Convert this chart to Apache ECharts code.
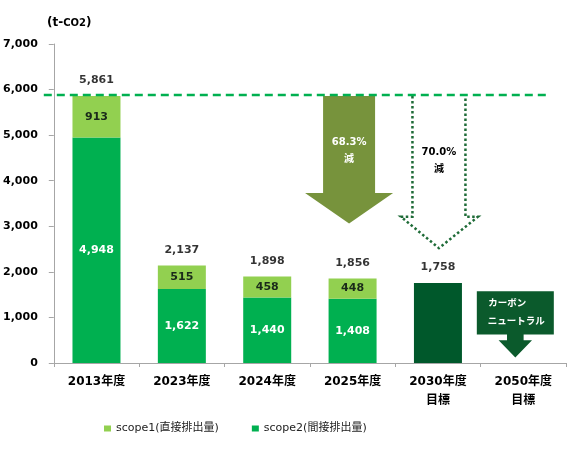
<!DOCTYPE html>
<html>
<head>
<meta charset="utf-8">
<script src="https://cdn.jsdelivr.net/npm/echarts@6.0.0/dist/echarts.min.js"></script>
<style>
html,body{margin:0;padding:0;background:#fff;}
#main{width:567px;height:456px;}
</style>
</head>
<body>
<div id="main"></div>
<script>
// データ
var categories = ['2013年度', '2023年度', '2024年度', '2025年度', '2030年度\n目標', '2050年度\n目標'];
var scope2 = [4948, 1622, 1440, 1408, null, null];   // 間接排出量
var scope1 = [913, 515, 458, 448, null, null];       // 直接排出量
var target = [null, null, null, null, 1758, null];   // 2030年度目標
var yMin = 0, yMax = 7000, yStep = 1000;
var cut2025 = ['68.3%', '減'];
var cut2030 = ['70.0%', '減'];
var neutral = ['カーボン', 'ニュートラル'];

var totals = categories.map(function (c, i) {
    if (target[i] != null) return target[i];
    if (scope1[i] == null) return null;
    return scope1[i] + scope2[i];
});

var FONT = '"DejaVu Sans","Noto Sans CJK JP",sans-serif';
var fmt = function (v) { return Number(v).toLocaleString('en-US'); };

var myChart = echarts.init(document.getElementById('main'));

option = {
    animation: false,
    backgroundColor: '#fff',
    textStyle: {fontFamily: FONT},
    title: {
        text: '(t-{s|CO2})',
        left: 42,
        top: 12,
        textStyle: {
            fontSize: 12, fontWeight: 'bold', color: '#000', fontFamily: FONT,
            rich: {s: {fontSize: 10, fontWeight: 'bold', color: '#000', fontFamily: FONT}}
        }
    },
    legend: {
        data: ['scope1(直接排出量)', 'scope2(間接排出量)'],
        left: 99,
        top: 418,
        icon: 'rect',
        itemWidth: 7,
        itemHeight: 6,
        itemGap: 33,
        textStyle: {fontSize: 11, color: '#222', fontFamily: FONT}
    },
    grid: {left: 53, right: 1, top: 44, bottom: 93},
    xAxis: {
        type: 'category',
        data: categories,
        axisLine: {lineStyle: {color: '#A6A6A6', width: 1}},
        axisTick: {show: true, length: 4, lineStyle: {color: '#A6A6A6'}},
        axisLabel: {
            color: '#000', fontWeight: 'bold', fontSize: 12, lineHeight: 19,
            margin: 9, interval: 0, fontFamily: FONT
        }
    },
    yAxis: {
        type: 'value',
        min: yMin, max: yMax, interval: yStep,
        splitLine: {show: false},
        axisLine: {show: true, lineStyle: {color: '#A6A6A6', width: 1}},
        axisTick: {show: true, length: 5, lineStyle: {color: '#A6A6A6'}},
        axisLabel: {
            color: '#000', fontWeight: 'bold', fontSize: 11, margin: 16,
            fontFamily: FONT, formatter: fmt
        }
    },
    series: [
        {
            name: 'scope2(間接排出量)',
            type: 'bar',
            stack: 'total',
            barWidth: 48,
            data: scope2,
            itemStyle: {color: '#00B050'},
            label: {
                show: true, position: 'inside', color: '#fff',
                fontWeight: 'bold', fontSize: 11, fontFamily: FONT,
                formatter: function (p) { return fmt(p.value); }
            }
        },
        {
            name: 'scope1(直接排出量)',
            type: 'bar',
            stack: 'total',
            barWidth: 48,
            data: scope1,
            itemStyle: {color: '#92D050'},
            label: {
                show: true, position: 'inside', color: '#1a2a1a',
                fontWeight: 'bold', fontSize: 11, fontFamily: FONT,
                formatter: function (p) { return fmt(p.value); }
            }
        },
        {
            name: '目標',
            type: 'bar',
            stack: 'total',
            barWidth: 48,
            data: target,
            itemStyle: {color: '#00582B'}
        },
        {
            // 合計ラベル
            name: '合計',
            type: 'scatter',
            data: totals,
            symbolSize: 0,
            silent: true,
            label: {
                show: true, position: 'top', distance: 10, color: '#000',
                fontWeight: 'bold', fontSize: 11, fontFamily: FONT,
                formatter: function (p) { return fmt(p.value); }
            }
        }
    ]
};
myChart.setOption(option);

// 矢印などの注記
function px(i, v) { return myChart.convertToPixel({gridIndex: 0}, [i, v]); }
var catW = px(1, 0)[0] - px(0, 0)[0];
var gridLeft = px(0, 0)[0] - catW / 2;
var baseY = px(0, 0)[1];
var lineY = px(0, totals[0])[1];
var labelFont = function (s) { return 'bold ' + s + 'px ' + FONT; };

function txt(t, x, y, color, size) {
    return {
        type: 'text', z: 20,
        style: {
            text: t, x: x, y: y, fill: color, font: labelFont(size),
            textAlign: 'center', textVerticalAlign: 'middle',
            align: 'center', verticalAlign: 'middle'
        }
    };
}

// 2025年度 矢印 (塗り)
var a1 = px(3, 0)[0] - 3.5;
var h1 = px(3, 3730)[1], t1 = px(3, 3060)[1];
// 2030年度 矢印 (点線)
var a2 = px(4, 0)[0] + 1;
var h2 = px(4, 3210)[1], t2 = px(4, 2520)[1];
// 2050年度 カーボンニュートラル
var cx = px(5, 0)[0] - 8;

var graphics = [
    {
        type: 'polygon', z: 5,
        shape: {points: [
            [a1 - 26, lineY], [a1 + 26, lineY], [a1 + 26, h1], [a1 + 44, h1],
            [a1, t1], [a1 - 44, h1], [a1 - 26, h1]
        ]},
        style: {fill: '#77933C'}
    },
    txt(cut2025[0], a1, lineY + 47, '#fff', 10),
    txt(cut2025[1], a1, lineY + 64, '#fff', 10),
    {
        type: 'polyline', z: 5,
        shape: {points: [
            [a2 - 26.5, lineY], [a2 - 26.5, h2], [a2 - 38, h2], [a2, t2],
            [a2 + 39, h2], [a2 + 26.5, h2], [a2 + 26.5, lineY]
        ]},
        style: {fill: null, stroke: '#1E6B37', lineWidth: 2.5, lineDash: [2.5, 2.5]}
    },
    txt(cut2030[0], a2, lineY + 57, '#000', 10),
    txt(cut2030[1], a2, lineY + 74, '#000', 10),
    {
        type: 'polygon', z: 5,
        shape: {points: [
            [cx - 38.5, baseY - 71.7], [cx + 38.5, baseY - 71.7], [cx + 38.5, baseY - 28.5],
            [cx + 8.3, baseY - 28.5], [cx + 8.3, baseY - 22.7], [cx + 16.7, baseY - 22.7],
            [cx, baseY - 5.5], [cx - 16.7, baseY - 22.7], [cx - 8.3, baseY - 22.7],
            [cx - 8.3, baseY - 28.5], [cx - 38.5, baseY - 28.5]
        ]},
        style: {fill: '#0B5A2C'}
    },
    txt(neutral[0], cx - 8, baseY - 59.7, '#fff', 9.5),
    txt(neutral[1], cx + 1, baseY - 41.7, '#fff', 9.5),
    {
        // 2013年度 基準線
        type: 'line', z: 30,
        shape: {x1: gridLeft - 10, y1: lineY - 1, x2: gridLeft + 6 * catW - 16, y2: lineY - 1},
        style: {stroke: '#00B050', lineWidth: 2.5, lineDash: [8, 5]}
    }
];
myChart.setOption({graphic: graphics});
</script>
</body>
</html>
